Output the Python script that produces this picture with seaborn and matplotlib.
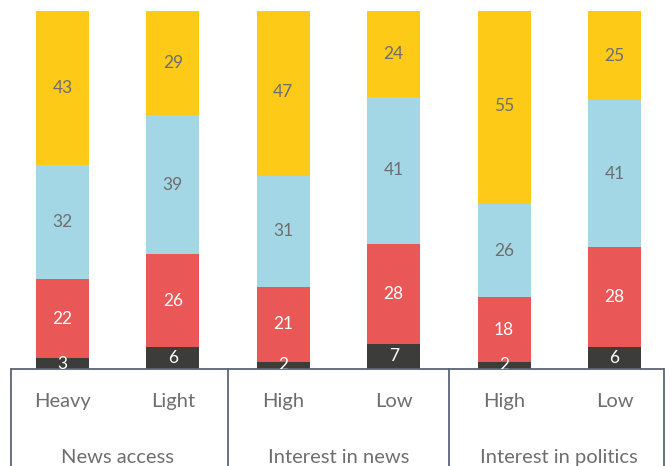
import numpy as np
import pandas as pd
import matplotlib
matplotlib.use("Agg")
import matplotlib.pyplot as plt
import seaborn as sns

# data (percent per segment, bottom to top)
groups = ["News access", "Interest in news", "Interest in politics"]
bar_labels = ["Heavy", "Light", "High", "Low", "High", "Low"]
dark_vals = [3, 6, 2, 7, 2, 6]
red_vals = [22, 26, 21, 28, 18, 28]
blue_vals = [32, 39, 31, 41, 26, 41]
yellow_vals = [43, 29, 47, 24, 55, 25]

layers = [dark_vals, red_vals, blue_vals, yellow_vals]
colors = ["#3c3c3a", "#e95757", "#a4d7e5", "#fdca18"]
text_colors = ["white", "white", "#6e6e6e", "#6e6e6e"]
grey = "#6e6e6e"
box_col = "#5d6374"

sns.set_theme(style="white")
plt.rcParams["font.family"] = ["Lato", "DejaVu Sans"]

keys = [f"b{i}" for i in range(len(bar_labels))]
cum = np.cumsum(np.array(layers), axis=0)

fig = plt.figure(figsize=(6.72, 4.66), dpi=100)
ax = fig.add_axes([0.0109, 0.2082, 0.9857, 0.7682])

# draw from tallest cumulative layer down so the stacks overlap correctly
for li in range(len(layers) - 1, -1, -1):
    df = pd.DataFrame({"bar": keys, "top": cum[li]})
    sns.barplot(data=df, x="bar", y="top", order=keys, color=colors[li],
                saturation=1, width=0.48, linewidth=0, ax=ax)

# segment labels, centred, clipped at the axis like the original
for li, vals in enumerate(layers):
    for bi, v in enumerate(vals):
        mid = cum[li][bi] - v / 2
        ax.text(bi, mid, str(v), ha="center", va="center", fontsize=12.5,
                color=text_colors[li], clip_on=True)

ax.set_xlim(-0.5, 5.5)
ax.set_ylim(0, 100)
ax.set_xticks([]); ax.set_yticks([])
ax.set_xlabel(""); ax.set_ylabel("")
for s in ax.spines.values():
    s.set_visible(False)

# the box under the bars with the category labels
x_left, x_right = -0.466, 5.448
ax.plot([x_left, x_right], [0, 0], color=box_col, lw=1.3, clip_on=False)
for xv in [x_left, 1.5, 3.5, x_right]:
    ax.plot([xv, xv], [0, -40], color=box_col, lw=1.3, clip_on=False)

for bi, lab in enumerate(bar_labels):
    ax.text(bi, -9.1, lab, ha="center", va="center", fontsize=14.5,
            color=grey, clip_on=False)
for gi, g in enumerate(groups):
    ax.text(2 * gi + 0.5, -24.6, g, ha="center", va="center", fontsize=14.5,
            color=grey, clip_on=False)

fig.savefig("out.png", dpi=100)
